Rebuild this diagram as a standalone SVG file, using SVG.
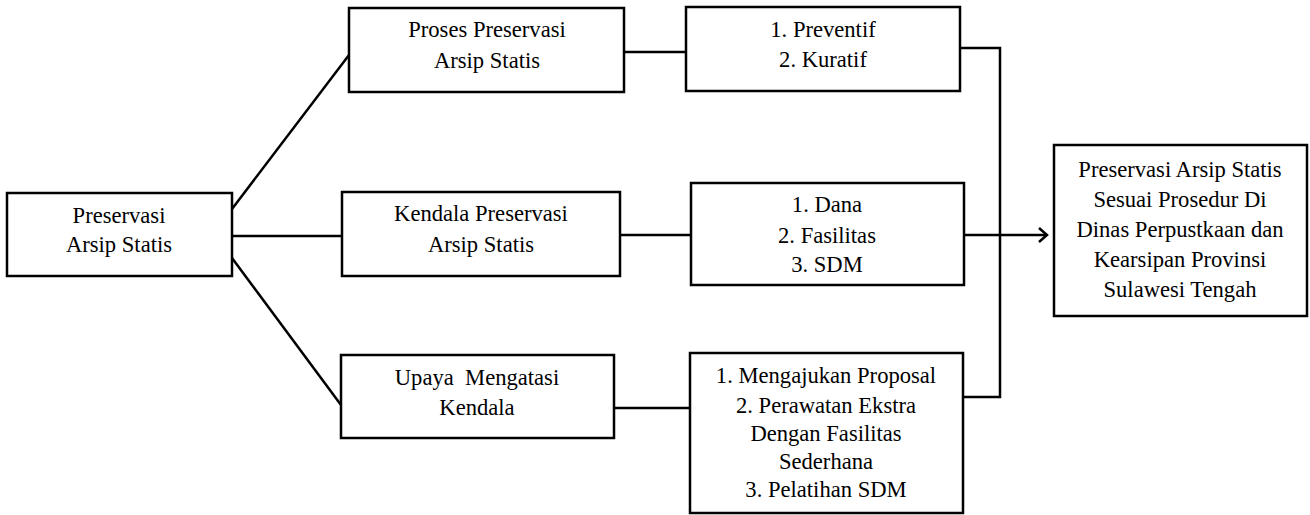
<svg xmlns="http://www.w3.org/2000/svg" width="1310" height="515" viewBox="0 0 1310 515">
<style>
.box{fill:#fff;stroke:#000;stroke-width:2.5}
.ln{fill:none;stroke:#000;stroke-width:2.5}
.t{font-family:'Liberation Serif','Times New Roman',serif;font-size:22.6px;fill:#000;text-anchor:middle}
</style>
<defs>
<marker id="arr" markerWidth="12" markerHeight="16" refX="10" refY="8" orient="auto" markerUnits="userSpaceOnUse">
<path d="M2,1 L10,8 L2,15" fill="none" stroke="#000" stroke-width="2.5"/>
</marker>
</defs>
<g id="connectors">
<line class="ln" x1="232" y1="209" x2="349" y2="55"/>
<line class="ln" x1="232" y1="236" x2="342" y2="236"/>
<line class="ln" x1="232" y1="258" x2="341" y2="405"/>
<line class="ln" x1="624" y1="52" x2="686" y2="52"/>
<line class="ln" x1="620" y1="235" x2="691" y2="235"/>
<line class="ln" x1="614" y1="408" x2="690" y2="408"/>
<polyline class="ln" points="960,48 1000,48 1000,397 963,397"/>
<line class="ln" x1="964" y1="235" x2="1047" y2="235" marker-end="url(#arr)"/>
</g>
<g class="t">
<g id="n-root">
<rect class="box" x="7" y="193" width="225" height="83"/>
<text x="119" y="223">Preservasi</text>
<text x="119" y="252">Arsip Statis</text>
</g>
<g id="n-proses">
<rect class="box" x="349" y="8" width="275" height="84"/>
<text x="487" y="37">Proses Preservasi</text>
<text x="487" y="68">Arsip Statis</text>
</g>
<g id="n-kendala">
<rect class="box" x="342" y="192" width="278" height="84"/>
<text x="481" y="221">Kendala Preservasi</text>
<text x="481" y="252">Arsip Statis</text>
</g>
<g id="n-upaya">
<rect class="box" x="341" y="355" width="273" height="83"/>
<text x="477" y="385" xml:space="preserve">Upaya  Mengatasi</text>
<text x="477" y="415">Kendala</text>
</g>
<g id="n-preventif">
<rect class="box" x="686" y="7" width="274" height="84"/>
<text x="823" y="37">1. Preventif</text>
<text x="823" y="67">2. Kuratif</text>
</g>
<g id="n-dana">
<rect class="box" x="691" y="183" width="273" height="102"/>
<text x="827" y="212">1. Dana</text>
<text x="827" y="243">2. Fasilitas</text>
<text x="827" y="272">3. SDM</text>
</g>
<g id="n-solusi">
<rect class="box" x="690" y="353" width="273" height="160"/>
<text x="826" y="383">1. Mengajukan Proposal</text>
<text x="826" y="413">2. Perawatan Ekstra</text>
<text x="826" y="441">Dengan Fasilitas</text>
<text x="826" y="469">Sederhana</text>
<text x="826" y="497">3. Pelatihan SDM</text>
</g>
<g id="n-hasil">
<rect class="box" x="1054" y="145" width="253" height="171"/>
<text x="1180" y="177">Preservasi Arsip Statis</text>
<text x="1180" y="207">Sesuai Prosedur Di</text>
<text x="1180" y="237">Dinas Perpustkaan dan</text>
<text x="1180" y="267">Kearsipan Provinsi</text>
<text x="1180" y="297">Sulawesi Tengah</text>
</g>
</g>
</svg>
